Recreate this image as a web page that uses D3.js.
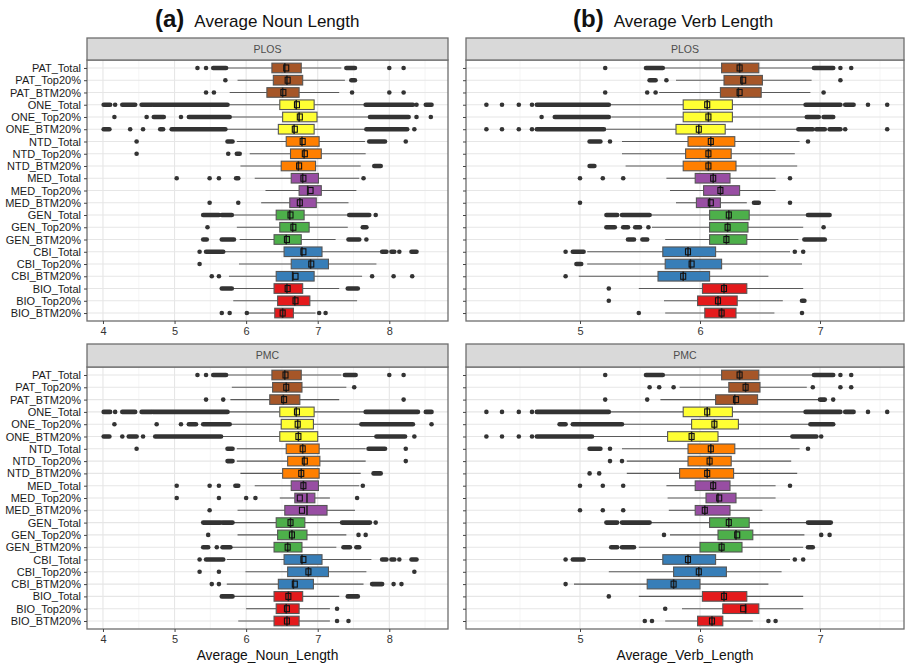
<!DOCTYPE html>
<html><head><meta charset="utf-8">
<script src="https://cdn.jsdelivr.net/npm/d3@7"></script>
<style>body{margin:0;background:#fff}svg{display:block;font-family:"Liberation Sans",Arial,sans-serif}</style>
</head><body><svg id="chart" width="906" height="665"></svg>
<script>
const categories = ["PAT_Total","PAT_Top20%","PAT_BTM20%","ONE_Total","ONE_Top20%","ONE_BTM20%",
  "NTD_Total","NTD_Top20%","NTD_BTM20%","MED_Total","MED_Top20%","MED_BTM20%",
  "GEN_Total","GEN_Top20%","GEN_BTM20%","CBI_Total","CBI_Top20%","CBI_BTM20%",
  "BIO_Total","BIO_Top20%","BIO_BTM20%"];
const groupNames = ["PAT","ONE","NTD","MED","GEN","CBI","BIO"];
const groupFills = ["#A65628","#FFFF33","#FF7F00","#984EA3","#4DAF4A","#377EB8","#E41A1C"];
const facets = ["PLOS","PMC"];
const nounTicks = [4,5,6,7,8];
const verbTicks = [5,6,7];
const nounMinor = [4.5,5.5,6.5,7.5,8.5];
const verbMinor = [4.5,5.5,6.5,7.5];

// [whisker low, q1, median, q3, whisker high, mean]
const nounPLOS = [
 [5.73,6.36,6.54,6.77,7.33,6.56],[5.88,6.38,6.57,6.79,7.38,6.58],[5.77,6.29,6.51,6.74,7.30,6.52],
 [5.75,6.47,6.70,6.95,7.66,6.71],[5.78,6.51,6.74,6.99,7.72,6.75],[5.72,6.45,6.67,6.95,7.67,6.68],
 [5.87,6.56,6.78,7.02,7.66,6.79],[6.05,6.62,6.81,7.05,7.67,6.82],[5.92,6.49,6.73,6.97,7.60,6.74],
 [6.12,6.63,6.79,7.01,7.58,6.80],[6.27,6.74,6.86,7.05,7.54,6.90],[6.21,6.61,6.75,6.98,7.43,6.75],
 [5.81,6.42,6.61,6.81,7.42,6.62],[5.87,6.47,6.65,6.88,7.42,6.66],[5.91,6.39,6.56,6.77,7.25,6.57],
 [5.69,6.53,6.78,7.06,7.87,6.80],[5.90,6.63,6.90,7.15,7.82,6.91],[5.76,6.42,6.65,6.95,7.62,6.69],
 [5.81,6.39,6.57,6.79,7.30,6.58],[5.82,6.44,6.68,6.89,7.55,6.69],[6.03,6.40,6.51,6.66,6.97,6.51]
];
// outliers: single values, or [from,to] runs of overlapping points
const nounPLOSOut = [
 [5.32,5.44,[5.54,5.72],[7.40,7.52],8.0,8.2],[5.71,[7.47,7.52]],[5.44,5.55,7.48,8.0,8.2],
 [[4.01,4.10],4.17,[4.27,4.45],[4.54,4.68],[4.70,5.74],[7.67,8.33],8.38,[8.51,8.59]],
 [4.16,4.61,[4.71,4.85],5.09,[5.20,5.77],[7.73,8.27],8.38,8.58],
 [[4.01,4.09],4.38,4.56,[4.80,4.84],[4.96,5.71],[7.68,8.25],8.35],
 [4.47,[5.74,5.81],[7.72,7.94],8.23],[4.47,5.75,[5.87,5.91]],[[7.79,7.88]],
 [5.03,5.49,5.62,[5.86,5.89],7.64],[],[5.49,5.89],
 [[5.40,5.62],[5.66,5.80],[7.44,7.72],7.81],[5.46,[7.63,7.68]],[[5.40,5.45],[5.66,5.83],[7.43,7.58],7.68],
 [5.35,[5.44,5.68],[7.90,7.96],[8.03,8.07],8.14,[8.31,8.38]],[5.35],[5.52,5.62,7.76,8.06,8.32],
 [[5.66,5.80],[7.42,7.56]],[],[5.66,5.77,6.01,7.02,7.11]
];
const nounPMC = [
 [5.73,6.36,6.54,6.77,7.33,6.55],[5.80,6.37,6.56,6.78,7.40,6.56],[5.78,6.33,6.52,6.75,7.30,6.53],
 [5.75,6.47,6.70,6.95,7.66,6.71],[5.78,6.49,6.72,6.94,7.60,6.72],[5.66,6.47,6.73,7.00,7.81,6.73],
 [5.87,6.56,6.79,7.02,7.67,6.79],[5.87,6.58,6.81,7.03,7.67,6.82],[5.92,6.51,6.77,7.02,7.60,6.77],
 [6.12,6.63,6.80,7.01,7.58,6.80],[6.47,6.68,6.85,6.96,7.17,6.75],[5.88,6.54,6.85,7.13,7.52,6.78],
 [5.82,6.42,6.62,6.82,7.33,6.62],[5.88,6.44,6.64,6.85,7.40,6.64],[5.80,6.39,6.58,6.78,7.26,6.58],
 [5.73,6.53,6.78,7.06,7.75,6.80],[5.99,6.58,6.87,7.15,7.68,6.87],[5.73,6.45,6.66,6.94,7.64,6.68],
 [5.82,6.39,6.59,6.79,7.30,6.59],[6.00,6.42,6.56,6.74,7.17,6.57],[5.89,6.39,6.57,6.74,7.17,6.57]
];
const nounPMCOut = [
 [5.32,5.44,[5.54,5.72],[7.38,7.53],8.0,8.2],[7.51],[5.44,5.68,8.2],
 [[4.01,4.10],4.17,[4.27,4.45],[4.54,4.68],[4.70,5.74],[7.67,8.40],[8.51,8.59]],
 [4.16,4.75,5.09,[5.20,5.30],[5.40,5.77],[7.61,8.33],8.59],
 [[4.01,4.09],4.27,[4.36,4.47],4.56,[4.73,5.65],[7.82,8.22],8.35],
 [4.47,[5.74,5.81],[7.71,7.94],8.23],[[5.74,5.81],8.23],[[7.78,7.88]],
 [5.03,5.49,5.62,[5.85,5.89],7.63],[5.03,5.62,6.00,6.13,7.55],[5.49],
 [[5.40,5.64],[5.67,5.81],[7.34,7.73],7.81],[5.47,7.57,7.67],[[5.40,5.47],5.59,[5.67,5.78],[7.36,7.45],[7.54,7.58]],
 [5.35,[5.44,5.68],[7.90,7.96],[8.03,8.07],8.14,[8.31,8.38]],[5.35,5.62,8.35],[5.52,5.62,[7.76,7.90],8.06,8.17],
 [[5.66,5.81],[7.42,7.56]],[7.27],[7.27,7.43]
];
const verbPLOS = [
 [5.70,6.18,6.33,6.49,6.94,6.33],[5.80,6.20,6.35,6.52,6.93,6.36],[5.66,6.17,6.32,6.51,6.92,6.33],
 [5.25,5.86,6.06,6.27,6.87,6.06],[5.26,5.86,6.07,6.27,6.88,6.07],[5.22,5.80,5.99,6.21,6.81,5.99],
 [5.35,5.90,6.09,6.29,6.83,6.09],[5.35,5.88,6.07,6.26,6.79,6.07],[5.38,5.86,6.07,6.30,6.81,6.07],
 [5.72,5.96,6.11,6.25,6.63,6.11],[5.75,6.03,6.17,6.33,6.63,6.17],[5.80,5.97,6.08,6.17,6.39,6.09],
 [5.59,6.08,6.24,6.41,6.89,6.24],[5.60,6.08,6.23,6.40,6.86,6.23],[5.71,6.08,6.22,6.39,6.82,6.22],
 [5.06,5.69,5.90,6.13,6.75,5.90],[5.06,5.71,5.92,6.18,6.85,5.93],[4.99,5.65,5.86,6.08,6.57,5.86],
 [5.49,6.02,6.20,6.39,6.86,6.20],[5.70,5.98,6.15,6.31,6.69,6.15],[5.71,6.04,6.18,6.30,6.62,6.18]
];
const verbPLOSOut = [
 [5.21,[5.55,5.69],[6.95,7.11],7.17,7.26],[[5.58,5.63],5.72,7.17],[5.21,5.56,5.63,7.03],
 [4.22,4.35,4.49,4.60,[4.64,5.24],[6.88,7.17],[7.21,7.28],7.40,7.56],
 [4.68,[4.79,5.24],[6.89,6.99],[7.03,7.11]],
 [4.22,4.35,4.49,4.60,[4.64,5.20],[6.82,6.94],[6.97,7.04],[7.08,7.17],7.21,7.56],
 [[5.08,5.17],5.25,6.90],[],[[5.08,5.12]],
 [5.0,5.19,5.36,6.75],[],[5.0,[6.45,6.49],6.75],
 [[5.22,5.31],[5.35,5.58],[6.90,7.08]],[[5.22,5.29],[5.36,5.40],[5.46,5.50],5.57,7.03],[[5.40,5.45],[5.52,5.56],[6.87,7.04]],
 [4.88,[4.94,5.03],6.79,6.86],[[4.97,5.01]],[4.88],
 [5.24],[5.24,[6.85,6.87]],[5.49,6.85]
];
const verbPMC = [
 [5.70,6.18,6.33,6.49,6.94,6.33],[5.83,6.24,6.38,6.50,6.89,6.38],[5.67,6.13,6.29,6.48,6.99,6.30],
 [5.25,5.86,6.06,6.27,6.87,6.06],[5.36,5.93,6.12,6.32,6.91,6.12],[5.11,5.73,5.93,6.15,6.76,5.93],
 [5.35,5.90,6.09,6.29,6.83,6.09],[5.39,5.90,6.08,6.26,6.76,6.08],[5.39,5.83,6.06,6.28,6.81,6.06],
 [5.72,5.96,6.11,6.25,6.63,6.11],[5.73,6.05,6.15,6.30,6.63,6.16],[5.74,5.96,6.04,6.25,6.52,6.04],
 [5.59,6.08,6.24,6.41,6.89,6.24],[5.75,6.15,6.30,6.44,6.87,6.31],[5.49,6.00,6.18,6.35,6.86,6.18],
 [5.06,5.69,5.90,6.13,6.75,5.90],[5.24,5.78,5.99,6.22,6.68,5.99],[4.95,5.56,5.78,6.00,6.57,5.78],
 [5.49,6.02,6.20,6.39,6.86,6.20],[5.85,6.19,6.38,6.49,6.86,6.36],[5.71,5.98,6.10,6.19,6.44,6.10]
];
const verbPMCOut = [
 [5.21,[5.55,5.69],[6.95,7.11],7.17,7.26],[5.58,5.66,5.78,6.94,7.17,7.26],[5.21,5.56,[7.0,7.04],7.11],
 [4.22,4.35,4.49,4.60,[4.64,5.24],[6.88,7.17],[7.21,7.28],7.40,7.56],
 [[4.83,4.88],[4.94,5.35],[6.92,7.11]],
 [4.22,4.35,4.49,4.60,[4.64,5.10],[6.77,6.97],7.01],
 [[5.08,5.17],5.25,6.90],[5.25,5.35],[5.08,5.16],
 [5.0,5.19,5.36,6.75],[],[5.0,5.19,5.36],
 [[5.22,5.31],[5.35,5.58],[6.90,7.09]],[5.70,7.01,7.08],[[5.26,5.31],[5.35,5.45],[6.90,6.94]],
 [4.88,[4.94,5.03],6.79,6.86],[],[4.88],
 [5.24],[5.71],[5.54,5.60,6.57,6.63]
];

const titles = [{tag:"(a)", text:"Average Noun Length", x:155},{tag:"(b)", text:"Average Verb Length", x:573}];
const axisTitles = ["Average_Noun_Length","Average_Verb_Length"];

const svg = d3.select("#chart");
const colorScale = d3.scaleOrdinal(groupNames, groupFills);

const cols = [
  {x0:87, x1:448, domain:[3.777,8.82], ticks:nounTicks, minor:nounMinor, showY:true},
  {x0:466, x1:904, domain:[4.05,7.70], ticks:verbTicks, minor:verbMinor, showY:false}
];
const rows = [
  {stripTop:38, top:60, bottom:321},
  {stripTop:344, top:367, bottom:629}
];
const panelData = [
  [[nounPLOS,nounPLOSOut],[verbPLOS,verbPLOSOut]],
  [[nounPMC,nounPMCOut],[verbPMC,verbPMCOut]]
];

rows.forEach((r, ri) => {
  cols.forEach((c, ci) => {
    const [stats, outs] = panelData[ri][ci];
    const x = d3.scaleLinear().domain(c.domain).range([c.x0, c.x1]);
    const y = d3.scalePoint().domain(categories).range([r.top, r.bottom]).padding(0.65);
    const g = svg.append("g");
    g.append("rect").attr("x",c.x0).attr("y",r.top).attr("width",c.x1-c.x0).attr("height",r.bottom-r.top).attr("fill","#fff");
    g.selectAll(".mn").data(c.minor).join("line")
      .attr("x1",d=>x(d)).attr("x2",d=>x(d)).attr("y1",r.top).attr("y2",r.bottom)
      .attr("stroke","#f0f0f0").attr("stroke-width",0.7);
    g.selectAll(".mj").data(c.ticks).join("line")
      .attr("x1",d=>x(d)).attr("x2",d=>x(d)).attr("y1",r.top).attr("y2",r.bottom)
      .attr("stroke","#e6e6e6").attr("stroke-width",1.1);
    g.selectAll(".hg").data(categories).join("line")
      .attr("x1",c.x0).attr("x2",c.x1).attr("y1",d=>y(d)).attr("y2",d=>y(d))
      .attr("stroke","#e6e6e6").attr("stroke-width",1.1);

    const bh = 9.6;
    categories.forEach((cat, i) => {
      const s = stats[i];
      const cy = y(cat);
      const col = colorScale(cat.split("_")[0]);
      g.append("line").attr("x1",x(s[0])).attr("x2",x(s[1])).attr("y1",cy).attr("y2",cy).attr("stroke","#5a5a5a").attr("stroke-width",1.1);
      g.append("line").attr("x1",x(s[3])).attr("x2",x(s[4])).attr("y1",cy).attr("y2",cy).attr("stroke","#5a5a5a").attr("stroke-width",1.1);
      outs[i].forEach(o => {
        if (Array.isArray(o)) {
          g.append("line").attr("x1",x(o[0])).attr("x2",x(o[1])).attr("y1",cy).attr("y2",cy)
            .attr("stroke","#333").attr("stroke-width",4.6).attr("stroke-linecap","round");
        } else {
          g.append("circle").attr("cx",x(o)).attr("cy",cy).attr("r",2.3).attr("fill","#333");
        }
      });
      g.append("rect").attr("x",x(s[1])).attr("y",cy-bh/2).attr("width",x(s[3])-x(s[1])).attr("height",bh)
        .attr("fill",col).attr("stroke","#555").attr("stroke-width",1.1);
      g.append("line").attr("x1",x(s[2])).attr("x2",x(s[2])).attr("y1",cy-bh/2).attr("y2",cy+bh/2)
        .attr("stroke","#222").attr("stroke-width",1.6);
      g.append("rect").attr("x",x(s[5])-2.5).attr("y",cy-3).attr("width",5).attr("height",6)
        .attr("fill","none").attr("stroke","#111").attr("stroke-width",1.1);
    });

    g.append("rect").attr("x",c.x0).attr("y",r.top).attr("width",c.x1-c.x0).attr("height",r.bottom-r.top)
      .attr("fill","none").attr("stroke","#6e6e6e").attr("stroke-width",1.3);
    g.append("rect").attr("x",c.x0).attr("y",r.stripTop).attr("width",c.x1-c.x0).attr("height",r.top-r.stripTop)
      .attr("fill","#d9d9d9").attr("stroke","#6e6e6e").attr("stroke-width",1.3);
    g.append("text").attr("x",(c.x0+c.x1)/2).attr("y",(r.stripTop+r.top)/2+3.8).attr("text-anchor","middle")
      .attr("font-size",10.5).attr("fill","#4d4d4d").text(facets[ri]);

    const xa = g.append("g").attr("transform",`translate(0,${r.bottom})`)
      .call(d3.axisBottom(x).tickValues(c.ticks).tickSize(3).tickPadding(3).tickFormat(d3.format("d")));
    xa.select(".domain").remove();
    xa.selectAll("line").attr("stroke","#444");
    xa.selectAll("text").attr("font-size",11).attr("fill","#333").attr("font-family","Liberation Sans, Arial, sans-serif");
    const ya = g.append("g").attr("transform",`translate(${c.x0},0)`)
      .call(d3.axisLeft(y).tickSize(3).tickPadding(3));
    ya.select(".domain").remove();
    ya.selectAll("line").attr("stroke","#444");
    ya.selectAll("text").attr("font-size",11).attr("fill","#1a1a1a").attr("font-family","Liberation Sans, Arial, sans-serif");
    if (!c.showY) ya.selectAll("text").remove();

    if (ri === 1) {
      g.append("text").attr("x",(c.x0+c.x1)/2).attr("y",660).attr("text-anchor","middle")
        .attr("font-size",13.8).attr("fill","#111").text(axisTitles[ci]);
    }
  });
});

titles.forEach(t => {
  const tx = svg.append("text").attr("x",t.x).attr("y",27).attr("fill","#111");
  tx.append("tspan").attr("font-weight","bold").attr("font-size",24).text(t.tag);
  tx.append("tspan").attr("dx",10).attr("font-size",17).text(t.text);
});
</script>
</body></html>
